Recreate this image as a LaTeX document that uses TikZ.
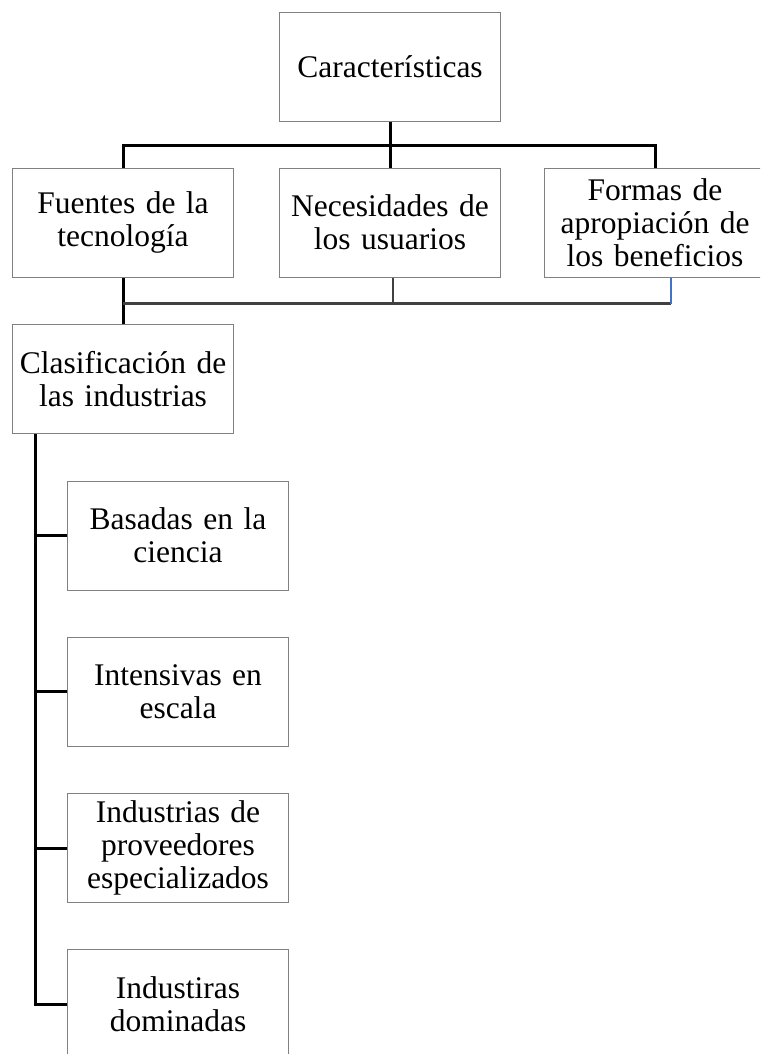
\documentclass[tikz,border=0pt]{standalone}
\usepackage{fontspec}
\setmainfont{Liberation Serif}
\usetikzlibrary{calc}
\definecolor{boxgray}{RGB}{128,128,128}
\definecolor{linegray}{RGB}{64,64,64}
\definecolor{wordblue}{RGB}{68,114,196}

\begin{document}
\begin{tikzpicture}[x=1pt,y=-1pt]
		\tikzstyle{box}=[draw=boxgray, line width=1pt, minimum width=221pt, minimum height=109pt, inner sep=0pt, text width=215pt, align=center, font=\fontsize{31.5}{33}\selectfont]
		\tikzstyle{link}=[black, line width=3pt]
		\tikzstyle{midlink}=[linegray, line width=2.2pt]
		\useasboundingbox (0,0) rectangle (760,1054);
		\clip (0,0) rectangle (760,1054);
		% top level
		\node [box] (car) at (390,67) {Características};
		\node [box] (fue) at (123,222.5) {Fuentes de la\\tecnología};
		\node [box] (nec) at (390,222.5) {Necesidades de\\los usuarios};
		\node [box] (for) at (655,222.5) {Formas de\\apropiación de\\los beneficios};
		\node [box] (cla) at (123,379) {Clasificación de\\las industrias};
		% industries
		\node [box] (bas) at (178,535.5) {Basadas en la\\ciencia};
		\node [box] (int) at (178,691.5) {Intensivas en\\escala};
		\node [box] (pro) at (178,848) {Industrias de\\proveedores\\especializados};
		\node [box] (dom) at (178,1004) {Industiras\\dominadas};
		% upper tree
		\draw [link] (car.south) -- (nec.north);
		\draw [link] (fue.north) -- ++(0,-22) -| (for.north);
		% lower tree
		\coordinate (jb) at ($(fue.south)+(0,26)$);
		\coordinate (fb) at ($(for.south)+(16,0)$);
		\draw [link] (fue.south) -- (cla.north);
		\draw [midlink] (jb) -- (jb -| fb);
		\draw [linegray, line width=1.4pt] ($(nec.south)+(3,0)$) -- ($(nec.south)+(3,26)$);
		\draw [wordblue, line width=1.2pt] (fb) -- (fb |- jb);
		% trunk
		\coordinate (trunk) at ($(cla.south west)+(23,0)$);
		\draw [link] (trunk) |- (dom.west);
		\foreach \n in {bas,int,pro}
			\draw [link] (trunk |- \n.west) -- (\n.west);
\end{tikzpicture}
\end{document}
